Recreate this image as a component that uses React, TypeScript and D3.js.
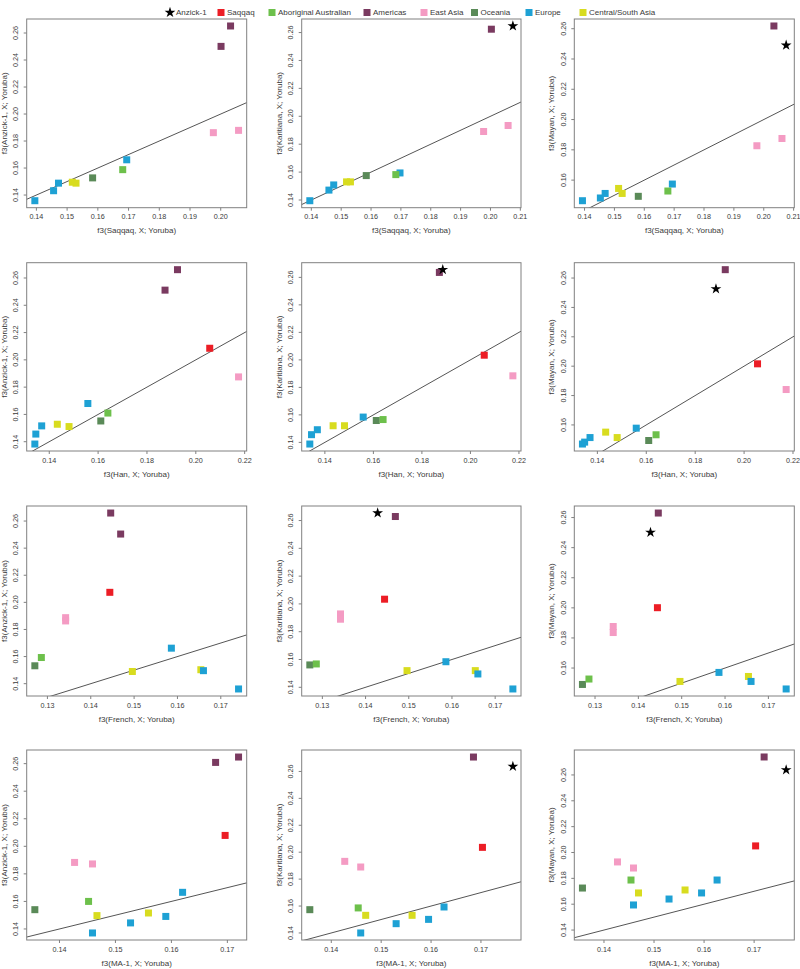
import React from "react";
import * as d3 from "d3";

type Pt = [number, number, string];

const groupNames = ["Anzick-1", "Saqqaq", "Aboriginal Australian", "Americas", "East Asia", "Oceania", "Europe", "Central/South Asia"];
const groupColors = ["#000000", "#EC1D25", "#6DC04B", "#7A3A60", "#F49BC3", "#5A8A58", "#1EA1D4", "#D8DC1F"];

const rowLabels = ["f3(Saqqaq, X; Yoruba)", "f3(Han, X; Yoruba)", "f3(French, X; Yoruba)", "f3(MA-1, X; Yoruba)"];
const colLabels = ["f3(Anzick-1, X; Yoruba)", "f3(Karitiana, X; Yoruba)", "f3(Mayan, X; Yoruba)"];
const xTickSteps = [0.01, 0.02, 0.01, 0.01];
const yTickStep = 0.02;

// Row 1: x = f3(Saqqaq, X; Yoruba)
const saqqaqAnzick: Pt[] = [
  [0.1395, 0.1358, "Europe"], [0.1456, 0.1432, "Europe"], [0.1472, 0.1488, "Europe"], [0.1694, 0.1661, "Europe"],
  [0.1517, 0.1495, "Central/South Asia"], [0.1529, 0.1488, "Central/South Asia"],
  [0.1583, 0.1527, "Oceania"], [0.1681, 0.1588, "Aboriginal Australian"],
  [0.1976, 0.1862, "East Asia"], [0.2058, 0.1879, "East Asia"],
  [0.2001, 0.2501, "Americas"], [0.2032, 0.2652, "Americas"],
];
const saqqaqKaritiana: Pt[] = [
  [0.1395, 0.1395, "Europe"], [0.1459, 0.1471, "Europe"], [0.1475, 0.1508, "Europe"], [0.1697, 0.1594, "Europe"],
  [0.1518, 0.153, "Central/South Asia"], [0.1531, 0.153, "Central/South Asia"],
  [0.1584, 0.1575, "Oceania"], [0.1683, 0.1582, "Aboriginal Australian"],
  [0.1977, 0.1891, "East Asia"], [0.2059, 0.1934, "East Asia"],
  [0.2003, 0.2624, "Americas"], [0.2075, 0.2647, "Anzick-1"],
];
const saqqaqMayan: Pt[] = [
  [0.1393, 0.1464, "Europe"], [0.1453, 0.1482, "Europe"], [0.1469, 0.1512, "Europe"], [0.1694, 0.1574, "Europe"],
  [0.1514, 0.1545, "Central/South Asia"], [0.1526, 0.1512, "Central/South Asia"],
  [0.158, 0.1493, "Oceania"], [0.1679, 0.1528, "Aboriginal Australian"],
  [0.1977, 0.1827, "East Asia"], [0.2061, 0.1875, "East Asia"],
  [0.2034, 0.2618, "Americas"], [0.2075, 0.2491, "Anzick-1"],
];

// Row 2: x = f3(Han, X; Yoruba)
const hanAnzick: Pt[] = [
  [0.1341, 0.1383, "Europe"], [0.1345, 0.1456, "Europe"], [0.1369, 0.1516, "Europe"], [0.1558, 0.168, "Europe"],
  [0.1433, 0.1528, "Central/South Asia"], [0.1481, 0.1511, "Central/South Asia"],
  [0.1611, 0.1552, "Oceania"], [0.164, 0.161, "Aboriginal Australian"],
  [0.1874, 0.2511, "Americas"], [0.1925, 0.2661, "Americas"],
  [0.2057, 0.2085, "Saqqaq"], [0.2175, 0.1875, "East Asia"],
];
const hanKaritiana: Pt[] = [
  [0.1338, 0.1388, "Europe"], [0.1345, 0.1456, "Europe"], [0.1369, 0.1492, "Europe"], [0.1558, 0.1584, "Europe"],
  [0.1434, 0.1521, "Central/South Asia"], [0.1481, 0.1521, "Central/South Asia"],
  [0.1612, 0.1559, "Oceania"], [0.164, 0.1566, "Aboriginal Australian"],
  [0.1872, 0.2636, "Americas"], [0.2057, 0.2034, "Saqqaq"], [0.2175, 0.1884, "East Asia"],
  [0.1886, 0.2656, "Anzick-1"],
];
const hanMayan: Pt[] = [
  [0.1339, 0.147, "Europe"], [0.1348, 0.1483, "Europe"], [0.137, 0.1514, "Europe"], [0.1559, 0.1578, "Europe"],
  [0.1434, 0.1551, "Central/South Asia"], [0.1481, 0.1514, "Central/South Asia"],
  [0.161, 0.1494, "Oceania"], [0.164, 0.1533, "Aboriginal Australian"],
  [0.1923, 0.2657, "Americas"], [0.2055, 0.2016, "Saqqaq"], [0.2172, 0.1841, "East Asia"],
  [0.1885, 0.2526, "Anzick-1"],
];

// Row 3: x = f3(French, X; Yoruba)
const frenchAnzick: Pt[] = [
  [0.1271, 0.1532, "Oceania"], [0.1286, 0.1593, "Aboriginal Australian"],
  [0.1342, 0.1887, "East Asia"], [0.1342, 0.1863, "East Asia"],
  [0.1444, 0.2074, "Saqqaq"], [0.1446, 0.2659, "Americas"], [0.1469, 0.2504, "Americas"],
  [0.1496, 0.149, "Central/South Asia"], [0.1654, 0.1503, "Central/South Asia"],
  [0.1586, 0.1662, "Europe"], [0.166, 0.1496, "Europe"], [0.1741, 0.1361, "Europe"],
];
const frenchKaritiana: Pt[] = [
  [0.1271, 0.1561, "Oceania"], [0.1286, 0.1568, "Aboriginal Australian"],
  [0.1342, 0.1928, "East Asia"], [0.1342, 0.189, "East Asia"],
  [0.1444, 0.2034, "Saqqaq"], [0.1469, 0.2629, "Americas"],
  [0.1496, 0.152, "Central/South Asia"], [0.1654, 0.152, "Central/South Asia"],
  [0.1586, 0.1584, "Europe"], [0.166, 0.1496, "Europe"], [0.1741, 0.1388, "Europe"],
  [0.1428, 0.2654, "Anzick-1"],
];
const frenchMayan: Pt[] = [
  [0.1271, 0.1491, "Oceania"], [0.1286, 0.1527, "Aboriginal Australian"],
  [0.1342, 0.1876, "East Asia"], [0.1342, 0.1836, "East Asia"],
  [0.1444, 0.2001, "Saqqaq"], [0.1446, 0.263, "Americas"],
  [0.1496, 0.1511, "Central/South Asia"], [0.1654, 0.1544, "Central/South Asia"],
  [0.1586, 0.1571, "Europe"], [0.166, 0.1511, "Europe"], [0.1741, 0.1461, "Europe"],
  [0.1428, 0.2501, "Anzick-1"],
];

// Row 4: x = f3(MA-1, X; Yoruba)
const ma1Anzick: Pt[] = [
  [0.1356, 0.154, "Oceania"], [0.1427, 0.1883, "East Asia"], [0.1459, 0.1872, "East Asia"],
  [0.1452, 0.16, "Aboriginal Australian"],
  [0.1467, 0.1497, "Central/South Asia"], [0.1559, 0.1516, "Central/South Asia"],
  [0.1459, 0.1371, "Europe"], [0.1527, 0.1444, "Europe"], [0.159, 0.1491, "Europe"], [0.162, 0.1666, "Europe"],
  [0.1679, 0.2609, "Americas"], [0.172, 0.2648, "Americas"], [0.1696, 0.2079, "Saqqaq"],
];
const ma1Karitiana: Pt[] = [
  [0.1357, 0.1573, "Oceania"], [0.1427, 0.1932, "East Asia"], [0.1459, 0.189, "East Asia"],
  [0.1454, 0.1586, "Aboriginal Australian"],
  [0.1469, 0.1531, "Central/South Asia"], [0.1562, 0.1531, "Central/South Asia"],
  [0.1459, 0.14, "Europe"], [0.153, 0.1469, "Europe"], [0.1595, 0.1501, "Europe"], [0.1626, 0.1593, "Europe"],
  [0.1685, 0.2707, "Americas"], [0.1703, 0.2036, "Saqqaq"], [0.1764, 0.2637, "Anzick-1"],
];
const ma1Mayan: Pt[] = [
  [0.1357, 0.1725, "Oceania"], [0.1427, 0.1927, "East Asia"], [0.1459, 0.188, "East Asia"],
  [0.1454, 0.1787, "Aboriginal Australian"],
  [0.1469, 0.1687, "Central/South Asia"], [0.1562, 0.171, "Central/South Asia"],
  [0.1459, 0.1594, "Europe"], [0.153, 0.164, "Europe"], [0.1595, 0.1687, "Europe"], [0.1626, 0.1787, "Europe"],
  [0.172, 0.2739, "Americas"], [0.1703, 0.2051, "Saqqaq"], [0.1764, 0.2639, "Anzick-1"],
];
const ma1MayanYLim: [number, number] = [0.1323, 0.2793];

const panels: Pt[][][] = [
  [saqqaqAnzick, saqqaqKaritiana, saqqaqMayan],
  [hanAnzick, hanKaritiana, hanMayan],
  [frenchAnzick, frenchKaritiana, frenchMayan],
  [ma1Anzick, ma1Karitiana, ma1Mayan],
];
const yLimOverrides: Record<string, [number, number]> = { "3-2": ma1MayanYLim };

// layout
const colLeft = [26.7, 301.7, 574.3];
const colRight = [246.7, 521, 794.3];
const rowTop = [19, 262.7, 506, 750];
const rowBottom = [207.7, 451, 696, 940];
const legendX = [170, 221, 272, 367, 424, 474.5, 529, 583];
const legendY = 12.5;
const FONT = "'Liberation Sans', Arial, Helvetica, sans-serif";
const textColor = "#3a3a3a";
const boxColor = "#808080";

const color = d3.scaleOrdinal<string, string>().domain(groupNames).range(groupColors);
const starPath = d3.symbol().type(d3.symbolStar).size(36)()!;
const fmt = d3.format(".2f");

function padDomain(vals: number[]): [number, number] {
  const [a, b] = d3.extent(vals) as [number, number];
  const p = (b - a) * 0.04;
  return [a - p, b + p];
}
function ticksIn(d: [number, number], step: number): number[] {
  const i0 = Math.ceil(d[0] / step - 1e-6);
  const i1 = Math.floor(d[1] / step + 1e-6);
  return d3.range(i0, i1 + 1).map((i) => +(i * step).toFixed(4));
}

function Panel({ pts, r, c }: { pts: Pt[]; r: number; c: number }) {
  const L = colLeft[c], R = colRight[c], T = rowTop[r], B = rowBottom[r];
  const xd = padDomain(pts.map((p) => p[0]));
  const yd = yLimOverrides[`${r}-${c}`] ?? padDomain(pts.map((p) => p[1]));
  const x = d3.scaleLinear().domain(xd).range([L, R]);
  const y = d3.scaleLinear().domain(yd).range([B, T]);
  const xt = ticksIn(xd, xTickSteps[r]);
  const yt = ticksIn(yd, yTickStep);
  const id = `clip-${r}-${c}`;
  const lo = Math.min(xd[0], yd[0]);
  const hi = Math.max(xd[1], yd[1]);
  const squares = pts.filter((p) => p[2] !== "Anzick-1");
  const stars = pts.filter((p) => p[2] === "Anzick-1");
  return (
    <g>
      <defs>
        <clipPath id={id}>
          <rect x={L} y={T} width={R - L} height={B - T} />
        </clipPath>
      </defs>
      <line
        clipPath={`url(#${id})`}
        x1={x(lo)} y1={y(lo)} x2={x(hi)} y2={y(hi)}
        stroke="#555" strokeWidth={1}
      />
      {squares.map((p, i) => (
        <rect key={i} x={x(p[0]) - 3.5} y={y(p[1]) - 3.5} width={7} height={7} fill={color(p[2])} />
      ))}
      {stars.map((p, i) => (
        <path key={"s" + i} d={starPath} transform={`translate(${x(p[0])},${y(p[1])})`} fill="#000" />
      ))}
      <rect x={L} y={T} width={R - L} height={B - T} fill="none" stroke={boxColor} strokeWidth={1} />
      {xt.map((t) => (
        <g key={"x" + t}>
          <line x1={x(t)} x2={x(t)} y1={B} y2={B + 3} stroke={boxColor} />
          <text x={x(t)} y={B + 9} textAnchor="middle" dominantBaseline="central" fontSize={7.2} fill={textColor}>
            {fmt(t)}
          </text>
        </g>
      ))}
      {yt.map((t) => (
        <g key={"y" + t}>
          <line x1={L} x2={L - 3} y1={y(t)} y2={y(t)} stroke={boxColor} />
          <text
            transform={`translate(${L - 11},${y(t)}) rotate(-90)`}
            textAnchor="middle" dominantBaseline="central" fontSize={7.2} fill={textColor}
          >
            {fmt(t)}
          </text>
        </g>
      ))}
      <text x={(L + R) / 2} y={B + 23} textAnchor="middle" dominantBaseline="central" fontSize={8} fill={textColor}>
        {rowLabels[r]}
      </text>
      <text
        transform={`translate(${L - 22.5},${(T + B) / 2}) rotate(-90)`}
        textAnchor="middle" dominantBaseline="central" fontSize={8} fill={textColor}
      >
        {colLabels[c]}
      </text>
    </g>
  );
}

export default function App() {
  return (
    <svg
      width={800}
      height={969}
      style={{ position: "absolute", left: 0, top: 0, background: "#fff" }}
      fontFamily={FONT}
    >
      <rect width={800} height={969} fill="#fff" />
      <g>
        {groupNames.map((g, i) => (
          <g key={g} transform={`translate(${legendX[i]},${legendY})`}>
            {i === 0 ? (
              <path d={starPath} fill="#000" />
            ) : (
              <rect x={-3.5} y={-3.5} width={7} height={7} fill={color(g)} />
            )}
            <text x={6} y={0} dominantBaseline="central" fontSize={8} fill={textColor}>
              {g}
            </text>
          </g>
        ))}
      </g>
      {panels.map((row, r) => row.map((pts, c) => <Panel key={`${r}-${c}`} pts={pts} r={r} c={c} />))}
    </svg>
  );
}
